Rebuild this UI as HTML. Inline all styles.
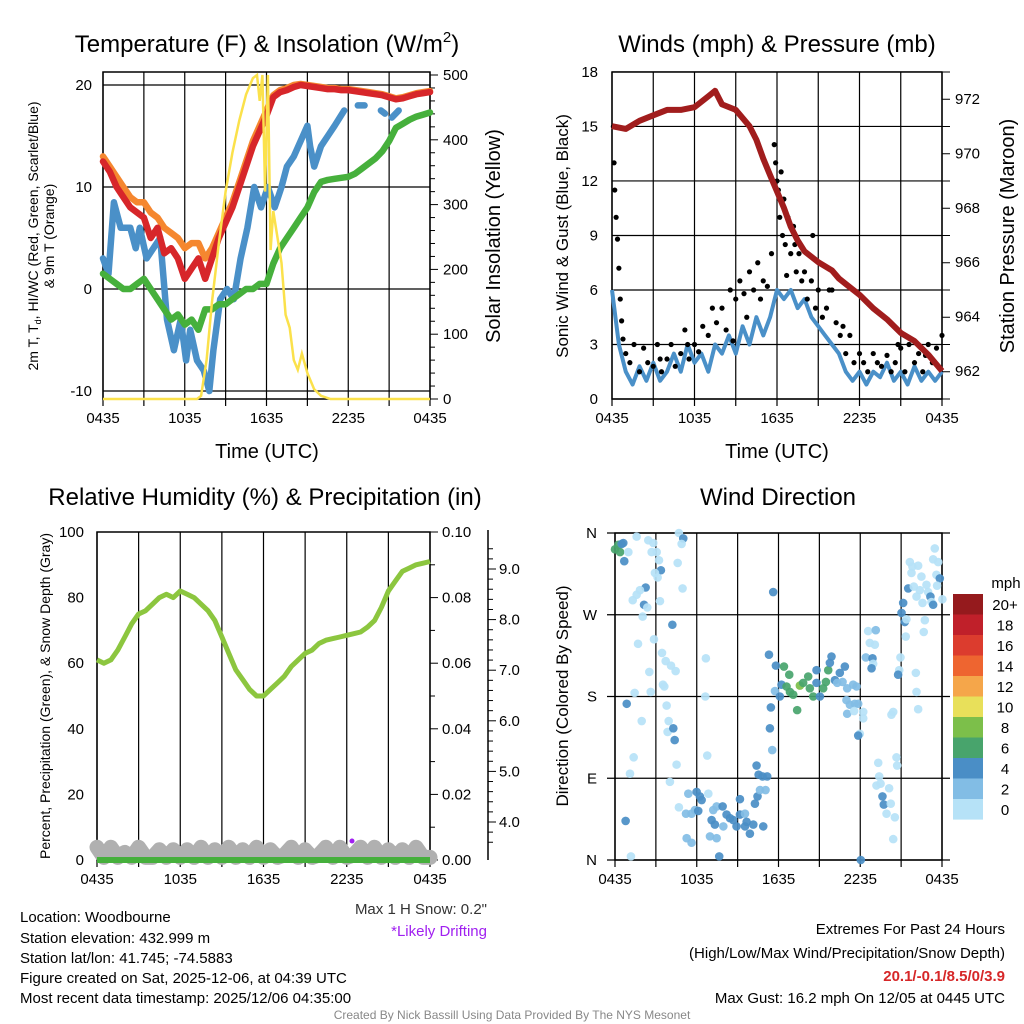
<!DOCTYPE html>
<html><head><meta charset="utf-8"><style>
html,body{margin:0;padding:0;background:#fff;}
svg{display:block;font-family:"Liberation Sans",sans-serif;}
</style></head><body>
<svg id="root" width="1024" height="1024" viewBox="0 0 1024 1024" xmlns="http://www.w3.org/2000/svg">
<rect width="1024" height="1024" fill="#fff"/>
<g id="p1"></g>
<g id="p2"></g>
<g id="p3"></g>
<g id="p4"></g>
<g font-size="24" text-anchor="middle" fill="#000">
<text x="267" y="52">Temperature (F) &amp; Insolation (W/m<tspan font-size="15" dy="-10">2</tspan><tspan dy="10">)</tspan></text>
<text x="777" y="52">Winds (mph) &amp; Pressure (mb)</text>
<text x="265" y="505">Relative Humidity (%) &amp; Precipitation (in)</text>
<text x="778" y="505">Wind Direction</text>
</g>
<g font-size="20" text-anchor="middle">
<text x="267" y="458">Time (UTC)</text>
<text x="777" y="458">Time (UTC)</text>
<text transform="translate(500,236) rotate(-90)">Solar Insolation (Yellow)</text>
<text transform="translate(1014,236) rotate(-90)">Station Pressure (Maroon)</text>
</g>
<g font-size="14" text-anchor="middle">
<text transform="translate(38,236) rotate(-90)">2m T, T<tspan font-size="9" dy="3">d</tspan><tspan dy="-3">, HI/WC (Red, Green, Scarlet/Blue)</tspan></text>
<text transform="translate(54,236) rotate(-90)">&amp; 9m T (Orange)</text>
<text transform="translate(50,696) rotate(-90)">Percent, Precipitation (Green), &amp; Snow Depth (Gray)</text>
</g>
<g font-size="17" text-anchor="middle">
<text transform="translate(568,236) rotate(-90)">Sonic Wind &amp; Gust (Blue, Black)</text>
<text transform="translate(568,696) rotate(-90)">Direction (Colored By Speed)</text>
</g>
<g font-size="15" fill="#000">
<text x="20" y="922">Location: Woodbourne</text>
<text x="20" y="943">Station elevation: 432.999 m</text>
<text x="20" y="963">Station lat/lon: 41.745; -74.5883</text>
<text x="20" y="983">Figure created on Sat, 2025-12-06, at 04:39 UTC</text>
<text x="20" y="1003">Most recent data timestamp: 2025/12/06 04:35:00</text>
<text x="487" y="914" text-anchor="end" fill="#333">Max 1 H Snow: 0.2"</text>
<text x="487" y="936" text-anchor="end" fill="#a020f0">*Likely Drifting</text>
<text x="1005" y="934" text-anchor="end">Extremes For Past 24 Hours</text>
<text x="1005" y="958" text-anchor="end">(High/Low/Max Wind/Precipitation/Snow Depth)</text>
<text x="1005" y="981" text-anchor="end" fill="#d62728" font-weight="bold">20.1/-0.1/8.5/0/3.9</text>
<text x="1005" y="1003" text-anchor="end">Max Gust: 16.2 mph On 12/05 at 0445 UTC</text>
</g>
<text x="512" y="1019" font-size="12" fill="#888" text-anchor="middle">Created By Nick Bassill Using Data Provided By The NYS Mesonet</text>
</svg>
<script>
// ---------- DATA ----------
const xTickLabels = ["0435","1035","1635","2235","0435"];
const tStep = [0,0.5,1,1.5,2,2.5,3,3.5,4,4.5,5,5.5,6,6.5,7,7.5,8,8.5,9,9.5,10,10.5,11,11.5,12,12.5,13,13.5,14,14.5,15,15.5,16,16.5,17,17.5,18,18.5,19,19.5,20,20.5,21,21.5,22,22.5,23,23.5,24];
const tempRed =   [12.5,11.5,10,9,8,7.5,7,5,6,3.5,4,3,1,2,3,1,3,5,6.5,8,10,12,14,15.5,17,18.8,19.3,19.5,19.8,20,19.9,19.8,19.7,19.6,19.6,19.5,19.5,19.4,19.3,19.2,19.1,19,18.8,18.6,18.7,18.9,19.1,19.2,19.3];
const tempOrange= [13,12,11,10,9,8.5,8.5,7.5,7,6,5.5,5,4,4.5,4.5,3,4,5.5,7,8.5,10.5,12.5,14.5,16,17.5,19,19.5,19.7,20,20.1,20,19.9,19.8,19.7,19.7,19.6,19.6,19.5,19.4,19.3,19.2,19.1,18.9,18.7,18.8,19,19.2,19.3,19.4];
const blueTimes = [0,0.4,0.8,1.3,2,2.4,2.7,3.2,4.2,4.7,5.2,5.7,6.1,6.4,6.9,7.4,7.8,8.1,8.6,9.1,9.6,10.1,10.6,11.1,11.6,12.1,12.6,13.1,13.5,14,15,15.2,15.5,16,16.5,17,17.7,18.2,18.7,19.2,19.5,20.4,20.7,21,21.2,21.7];
const tempBlue =  [3,1.5,8.5,6,6,4,6,3,5,-3,-6,-3,-7,-4,-7,-8,-10,-6,-1,0,-1,3,6,10,8,10,8,10,12,13,16,14,12,14,15,16,17.5,null,18,18,null,17.5,17.2,null,16.8,17.5];
const tempGreen = [1.5,1,0.5,0,0,0.5,1,0,-1,-2,-3,-2.5,-3.5,-3,-4,-2,-2,-1.5,-1.5,-1,-0.5,0,0,0.5,0.5,2.5,4,5,6,7,8,9.5,10.5,10.7,10.8,10.9,11,11.3,11.8,12.3,12.8,13.5,14.5,15.8,16.2,16.6,16.9,17.1,17.3];
const solarTimes = [0,6.9,7.2,7.6,8,8.5,9,9.5,10,10.5,11,11.3,11.5,11.7,11.9,12.1,12.3,12.5,12.8,13.1,13.4,13.7,14,14.3,14.6,15,15.5,16,16.7,24];
const solarVals  = [0,0,5,60,150,240,320,380,430,470,495,500,460,500,320,500,230,290,250,210,130,110,60,45,70,40,15,5,0,0];
const windTimes = tStep;
const windVals = [6,3,1.5,0.8,1.8,1,2,1,1.5,2.5,1.5,3,2,2.5,1.5,3,2.5,3.5,2.5,4,3,4.5,3.5,4.5,6,5.5,6,5,5.5,4.5,4,3.5,3,2.5,1.5,1,1.5,0.8,1.5,1.2,2,1,1.5,0.8,1.8,1,1.5,1,1.5];
const gustTimes = [0.1,0.15,0.2,0.3,0.4,0.5,0.6,0.7,0.8,1,1.3,1.6,2,2.3,2.6,3,3.3,3.6,4,4.3,4.6,5,5.3,5.6,6,6.3,6.6,7,7.3,7.6,8,8.3,8.6,9,9.3,9.6,10,10.3,10.6,11,11.3,11.6,11.8,11.9,12,12.1,12.2,12.3,12.4,12.5,12.6,12.8,13,13.2,13.4,13.6,13.8,14,14.2,14.5,14.8,15,15.3,15.6,16,16.3,16.6,17,17.3,17.6,18,18.3,18.6,19,19.3,19.6,20,20.3,20.6,21,21.3,21.6,22,22.3,22.6,23,23.3,23.6,24,3.5,5.5,8.8,9.8,10.8,12.7,13.3,14.6,15.8,16.8,20.8,22.8];
const gustVals  = [15,13,11.5,10,8.8,7.2,5.5,4.3,3.3,2.5,2,3,1.5,2.8,2,1.8,3,1.5,2.2,3,1.8,2.5,3.8,2.2,3,2.6,4,3.5,5,4.2,5,3.8,6,5.5,6.5,5.8,7,6,7.5,6.5,6.2,8,14,13,12,11.5,10,12.5,9,11,8.5,10,8,9.5,7,8,6.5,7,5.5,6.5,5,6,4.5,5,6,4.2,3.5,2.5,3.5,2,2.5,2,1.5,2.5,2,1.8,2.4,1.5,2,2.8,1.5,3,2,2.5,1.5,3,2,2.8,3.5,2.2,3,3.2,4.5,5.5,6.8,8.5,9,6,4,3,2.4,2.2];
const pressTimes = [0,1,2,3,4,5,6,7,7.5,8,9,10,10.5,11,11.5,12,12.5,13,13.5,14,15,16,16.5,17,18,19,20,21,22,23,24];
const pressVals  = [971.0,970.9,971.2,971.4,971.6,971.6,971.7,972.1,972.3,971.8,971.6,971.0,970.5,969.8,969.2,968.6,968.0,967.3,966.8,966.4,966.0,965.7,965.4,965.2,964.8,964.3,963.9,963.4,963.1,962.6,962.0];
const rhVals = [61,60,61,64,68,72,75,76,78,80,81,80,82,81,80,78,76,73,68,63,58,55,52,50,50,52,54,56,59,61,63,64,66,67,67.5,68,68.5,69,69.5,71,73,77,82,85,88,89,90,90.5,91];
const snowVals = [3.5,3.3,3.5,3.3,3.4,3.3,3.5,3.3,3.3,3.45,3.3,3.45,3.3,3.45,3.3,3.5,3.3,3.45,3.3,3.5,3.3,3.45,3.3,3.5,3.3,3.45,3.3,3.35,3.5,3.3,3.45,3.3,3.35,3.5,3.3,3.5,3.3,3.35,3.5,3.3,3.5,3.3,3.45,3.3,3.45,3.3,3.5,3.3,3.3];
const precipVals = [0,0,0,0,0,0,0,0,0,0,0,0,0,0,0,0,0,0,0,0,0,0,0,0,0,0,0,0,0,0,0,0,0,0,0,0,0,0,0,0,0,0,0,0,0,0,0,0,0];
const dirTimes = [0,0.24,0.37,0.49,0.61,0.98,0.68,1.59,2.44,2.81,2.69,3.06,3.23,3.37,2.93,3.13,4.69,5.01,4.89,4.6,4.96,2.25,1.83,1.3,1.59,2.13,2.37,3.3,2.03,4.21,2.86,1.69,3.45,3.72,4.11,4.45,2.52,3.52,3.62,2.62,1.44,0.86,1.96,3.79,3.94,3.86,4.28,4.38,4.52,1.37,1.1,4.03,4.69,0.78,1.17,6.67,6.63,6.77,5.38,5.99,6.23,6.36,6.85,5.21,5.62,5.87,6.11,5.26,5.62,7.21,7.46,7.9,8.19,8.44,8.68,9.17,9.54,9.66,9.17,10.15,10.88,7.09,7.33,6.97,7.46,7.65,7.95,8.92,9.54,9.9,10.27,10.46,10.64,11.05,10.54,10.39,10.83,11.17,11.54,11.37,11.44,11.61,11.3,11.81,11.74,12.1,12.22,12.4,12.79,12.59,12.84,13.08,13.37,13.57,13.81,14.18,14.3,14.55,14.79,15.04,14.79,15.28,15.48,15.65,15.77,15.89,16.14,16.5,16.87,16.31,16.7,17.04,17.48,17.73,16.99,17.24,17.6,17.85,17.04,17.55,18.22,18.22,17.97,17.85,18.58,19.14,18.7,19.07,18.41,18.9,18.95,18.83,19.32,19.39,19.19,19.49,19.63,19.73,19.93,20.24,20.12,20.54,20.66,20.71,20.42,20.29,20.42,18.04,20.86,20.78,20.95,21.15,21.03,21.27,21.34,21.39,21.52,21.64,21.83,21.76,22.25,22.49,22.37,21.93,22.13,22.57,22.74,22.66,22.86,22.98,23.15,23.23,23.35,23.47,23.35,23.72,23.59,23.84,23.64,24.03,22.08,22.13,22.25];
const dirVals = [342,347,339,348,349,339,329,356,352,349,339,339,330,319,316,311,360,354,348,327,299,300,297,286,292,281,278,285,268,259,243,238,228,219,214,208,207,193,191,185,184,172,153,170,153,141,145,132,105,113,95,86,58,43,4,222,180,115,73,75,70,66,73,51,51,55,54,24,19,55,59,59,50,46,44,50,51,42,67,39,37,44,39,26,24,4,37,37,37,29,62,70,77,77,94,104,92,92,121,145,168,295,226,214,186,180,193,213,204,191,185,182,165,192,195,202,189,180,195,180,209,189,196,209,217,224,198,206,213,195,196,189,193,191,176,171,172,172,161,164,163,156,139,137,252,253,239,237,223,222,216,211,107,92,82,84,70,61,51,62,79,47,113,104,23,160,163,0,209,204,223,283,272,262,246,265,299,328,323,316,324,312,297,301,290,283,264,251,303,295,290,284,281,343,331,328,314,310,302,287,206,185,166];
const dirSpeeds = [7,7,7,5,5,1,4.5,1,1,1,1,1,1,4.5,1,1,1,4.5,1,1,1,4.5,1,1,1,4.5,1,1,1,4.5,1,1,1,1,1,1,1,1,1,1,1,4.5,1,1,1,1,4.5,4.5,1,1,1,1,1,4.5,1,1,1,1,3,5,5,4.5,1,3,3,3,5,3,3,3,3,4.5,5,5,5,4.5,3,5,5,5,5,5,5,3,3,4.5,3,5,4.5,4.5,5,5,3,3,5,5,5,5,3,4.5,4.5,4.5,4.5,4.5,3,5,5,7,7,7,7,7,7,9,7,7,7,7,5,5,5,7,7,7,5,5,5,5,5,3,3,3,3,3,3,3,3,3,3,1,1,1,1,4.5,1,3,1,1,3,4.5,1,4.5,1,1,1,1,4.5,4.5,1,1,1,1,1,1,1,1,1,4.5,1,4.5,1,4.5,4.5,4.5,1,1,4.5,1,1,1,1,1,1,1,1,1,1,1,1,1,4.5,1,4.5,1,1,1,1,4.5,1,1,1,1];
const cbarLabels = ["20+","18","16","14","12","10","8","6","4","2","0"];
const cbarColors = ["#951a1d","#c0202a","#dc3c2e","#ee6530","#f5a64a","#e8e05a","#7cbf4a","#48a46c","#4a8ec6","#82bde5","#b6e2f7"];

// ---------- HELPERS ----------
const NS="http://www.w3.org/2000/svg";
function mk(parent,tag,attrs){const e=document.createElementNS(NS,tag);for(const k in attrs)e.setAttribute(k,attrs[k]);parent.appendChild(e);return e;}
function linePath(xs,ys,sx,sy){let d="",pen=false;for(let i=0;i<xs.length;i++){if(ys[i]===null||ys[i]===undefined){pen=false;continue;}d+=(pen?"L":"M")+sx(xs[i]).toFixed(1)+","+sy(ys[i]).toFixed(1);pen=true;}return d;}
function speedColor(s){if(typeof s!=="number"||isNaN(s))s=1;const i=Math.min(10,Math.floor(s/2));return cbarColors[10-i];}

function frame(g,x0,x1,y0,y1,name){
  for(let k=0;k<=8;k++){const x=x0+(x1-x0)*k/8;const l=mk(g,"line",{x1:x,x2:x,y1:y0,y2:y1,stroke:"#000","stroke-width":1.2});
    
    
    const tk=mk(g,"line",{x1:x,x2:x,y1:y1,y2:y1+7,stroke:"#000","stroke-width":1.2});
    
    }
  xTickLabels.forEach((lab,i)=>{const t=mk(g,"text",{x:x0+(x1-x0)*i/4,y:y1+24,"font-size":15,"text-anchor":"middle"});t.textContent=lab;
    
    });
  const r=mk(g,"rect",{x:x0,y:y0,width:x1-x0,height:y1-y0,fill:"none",stroke:"#000","stroke-width":1.5});
  
  
}
function hgrid(g,x0,x1,y,lab,lx,anchor,name){
  const l=mk(g,"line",{x1:x0,x2:x1,y1:y,y2:y,stroke:"#000","stroke-width":1.2});
  
  
  if(lab!==null){const t=mk(g,"text",{x:lx,y:y+5,"font-size":15,"text-anchor":anchor});t.textContent=lab;
  
  }
}
function rticks(g,x,ya,yb,n,major){for(let k=0;k<=n;k++){const y=ya+(yb-ya)*k/n;const m=(k%major===0);const tk=mk(g,"line",{x1:x,x2:x+(m?8:5),y1:y,y2:y,stroke:"#000","stroke-width":1});
  
  }}

// ---------- PANEL 1 ----------
(function(){
  const g=document.getElementById('p1');
  const X0=103,X1=430,Y0=72,Y1=399;
  const sx=t=>X0+(X1-X0)*t/24;
  const sy=v=>289-10.2*v;
  const ss=v=>399-0.648*v;
  frame(g,X0,X1,Y0,Y1,'temperature');
  [20,10,0,-10].forEach(v=>hgrid(g,X0,X1,sy(v),String(v),92,"end",'temp-tick-label'));
  rticks(g,X1,ss(0),ss(500),25,5);
  [0,100,200,300,400,500].forEach(v=>{const t=mk(g,"text",{x:X1+13,y:ss(v)+5,"font-size":15});t.textContent=v;
    
    });
  const series=[[tStep,tempOrange,"#f5872f","orange-9m-temp-line"],[blueTimes,tempBlue,"#4a90c8","blue-windchill-line"],[tStep,tempGreen,"#46b03c","green-dewpoint-line"],[tStep,tempRed,"#d7262a","red-2m-temp-line"]];
  series.forEach(s=>{const p=mk(g,"path",{d:linePath(s[0],s[1],sx,sy),fill:"none",stroke:s[2],"stroke-width":6.5,"stroke-linejoin":"round","stroke-linecap":"round"});
    
    });
  const sp=mk(g,"path",{d:linePath(solarTimes,solarVals,sx,ss),fill:"none",stroke:"#fbe14b","stroke-width":2.5});
  
  
})();

// ---------- PANEL 2 ----------
(function(){
  const g=document.getElementById('p2');
  const X0=612,X1=942,Y0=72,Y1=399;
  const sx=t=>X0+(X1-X0)*t/24;
  const sy=v=>399-18.17*v;
  const sp=v=>371-27.2*(v-962);
  frame(g,X0,X1,Y0,Y1,'winds');
  [0,3,6,9,12,15,18].forEach(v=>hgrid(g,X0,X1,sy(v),String(v),598,"end",'wind-tick-label'));
  rticks(g,X1,Y1,Y0,12,1);
  [962,964,966,968,970,972].forEach(v=>{const t=mk(g,"text",{x:X1+13,y:sp(v)+5,"font-size":15});t.textContent=v;
    
    });
  const w=mk(g,"path",{d:linePath(windTimes,windVals,sx,sy),fill:"none",stroke:"#4a90c8","stroke-width":4,"stroke-linejoin":"round"});
  
  
  gustTimes.forEach((t,i)=>{if(gustVals[i]===undefined)return;const c=mk(g,"circle",{cx:sx(t),cy:sy(gustVals[i]),r:2.6,fill:"#000"});
    
    });
  const p=mk(g,"path",{d:linePath(pressTimes,pressVals,sx,sp),fill:"none",stroke:"#a11d1d","stroke-width":6,"stroke-linejoin":"round"});
  
  
})();

// ---------- PANEL 3 ----------
(function(){
  const g=document.getElementById('p3');
  const X0=97,X1=430,Y0=532,Y1=860;
  const sx=t=>X0+(X1-X0)*t/24;
  const sy=v=>860-3.28*v;
  const sn=v=>822+(4-v)*50.6;
  const sq=v=>860-3280*v;
  frame(g,X0,X1,Y0,Y1,'humidity');
  [0,20,40,60,80,100].forEach(v=>{const t=mk(g,"text",{x:84,y:sy(v)+5,"font-size":15,"text-anchor":"end"});t.textContent=v;
    
    });
  rticks(g,X1,Y1,Y0,10,2);
  [0,0.02,0.04,0.06,0.08,0.10].forEach(v=>{const t=mk(g,"text",{x:X1+12,y:sq(v)+5,"font-size":15});t.textContent=v.toFixed(2);
    
    });
  const sa=mk(g,"line",{x1:488,x2:488,y1:530,y2:860,stroke:"#000","stroke-width":1.5});
  
  
  for(let v=3.6;v<=9.5;v+=0.2){const m=Math.abs(v-Math.round(v))<0.01;const tk=mk(g,"line",{x1:488,x2:488+(m?8:5),y1:sn(v),y2:sn(v),stroke:"#000"});
    
    }
  [4,5,6,7,8,9].forEach(v=>{const t=mk(g,"text",{x:499,y:sn(v)+5,"font-size":15});t.textContent=v.toFixed(1);
    
    });
  const s=mk(g,"path",{d:linePath(tStep,snowVals,sx,sn),fill:"none",stroke:"#b0b0b0","stroke-width":15,"stroke-linejoin":"round","stroke-linecap":"round"});
  
  
  const pr=mk(g,"path",{d:linePath(tStep,precipVals,sx,sq),fill:"none",stroke:"#46b03c","stroke-width":6});
  
  
  const dr=mk(g,"circle",{cx:352,cy:841,r:2.5,fill:"#a020f0"});
  
  
  const rh=mk(g,"path",{d:linePath(tStep,rhVals,sx,sy),fill:"none",stroke:"#8cc63f","stroke-width":5,"stroke-linejoin":"round"});
  
  
})();

// ---------- PANEL 4 ----------
(function(){
  const g=document.getElementById('p4');
  const X0=615,X1=942,Y0=533,Y1=860;
  const sx=t=>X0+(X1-X0)*t/24;
  const sy=d=>860-327*d/360;
  frame(g,X0,X1,Y0,Y1,'direction');
  [[360,"N"],[270,"W"],[180,"S"],[90,"E"],[0,"N"]].forEach(a=>hgrid(g,X0-8,X1+8,sy(a[0]),a[1],597,"end",'direction-tick-label'));
  dirTimes.forEach((t,i)=>{if(dirVals[i]===undefined)return;const c=mk(g,"circle",{cx:sx(t),cy:sy(dirVals[i]),r:4.3,fill:speedColor(dirSpeeds[i]),"fill-opacity":0.92});
    
    });
  const cb=mk(g,"g",{});
  
  
  cbarLabels.forEach((lab,i)=>{const y=594+i*20.5;
    const r=mk(cb,"rect",{x:953,y:y,width:30,height:20.6,fill:cbarColors[i]});
    
    
    const t=mk(cb,"text",{x:1005,y:y+16,"font-size":15,"text-anchor":"middle"});t.textContent=lab;
    
    });
  const u=mk(cb,"text",{x:1006,y:588,"font-size":15,"text-anchor":"middle"});u.textContent="mph";
  
  
})();
</script>
</body></html>
